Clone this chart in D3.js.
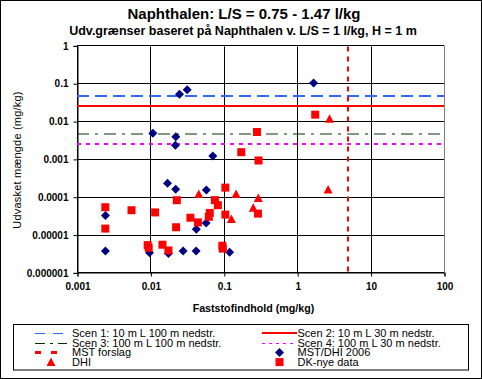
<!DOCTYPE html>
<html><head><meta charset="utf-8">
<script src="https://cdn.jsdelivr.net/npm/d3@7"></script>
<style>
html,body{margin:0;padding:0;background:#fff;}
svg{display:block;font-family:"Liberation Sans",Arial,sans-serif;}
</style></head>
<body>
<svg id="chart" width="482" height="379"></svg>
<script>
// ---- data ----
const titleText = "Naphthalen: L/S = 0.75 - 1.47 l/kg";
const subtitleText = "Udv.grænser baseret på Naphthalen v. L/S = 1 l/kg, H = 1 m";
const xAxisTitle = "Faststofindhold (mg/kg)";
const yAxisTitle = "Udvasket mængde (mg/kg)";

const xTicks = [0.001, 0.01, 0.1, 1, 10, 100];
const xTickLabels = ["0.001", "0.01", "0.1", "1", "10", "100"];
const yTicks = [0.000001, 0.00001, 0.0001, 0.001, 0.01, 0.1, 1];
const yTickLabels = ["0.000001", "0.00001", "0.0001", "0.001", "0.01", "0.1", "1"];

const scenNames = ["Scen 1:  10 m L 100 m nedstr.", "Scen 2: 10 m L 30 m nedstr.",
                   "Scen 3: 100 m L 100 m nedstr.", "Scen 4: 100 m L 30 m nedstr."];
const scenValues = [0.05, 0.027, 0.0049, 0.0026];

const mstForslagName = "MST forslag";
const mstForslagX = 4.85;

const mstDhiName = "MST/DHI 2006";
const mstDhiX = [0.0249, 0.0317, 0.0108, 0.0222, 0.0219, 0.0708, 1.67, 0.0171, 0.0221, 0.0579,
                 0.00244, 0.0574, 0.0422, 0.00244, 0.00972, 0.0176, 0.0279, 0.0420, 0.120];
const mstDhiY = [0.0543, 0.0718, 0.00506, 0.00411, 0.00244, 0.00127, 0.108, 0.000242, 0.000168, 0.000161,
                 0.0000341, 0.0000216, 0.0000147, 0.00000393, 0.00000352, 0.00000338, 0.00000393, 0.00000393, 0.00000363];

const dhiName = "DHI";
const dhiX = [0.0456, 0.147, 0.295, 0.252, 0.127, 2.76, 2.64];
const dhiY = [0.000126, 0.000126, 0.0000988, 0.0000547, 0.0000275, 0.0123, 0.000164];

const dkName = "DK-nye data";
const dkX = [0.00243, 0.00243, 0.00553, 0.0116, 0.00918, 0.00948, 0.0146, 0.0176, 0.0229, 0.0224,
             0.0351, 0.0444, 0.0756, 0.0830, 0.0644, 0.0624, 0.105, 0.105, 0.0956, 0.0968,
             0.173, 0.283, 0.297, 0.292, 1.76];
const dkY = [0.0000561, 0.0000153, 0.0000468, 0.0000409, 0.0000056, 0.00000478, 0.00000573, 0.00000405, 0.0000859, 0.0000166,
             0.0000296, 0.0000223, 0.0000864, 0.0000634, 0.0000397, 0.0000313, 0.000185, 0.0000358, 0.00000539, 0.00000452,
             0.0016, 0.00547, 0.000967, 0.000038, 0.0157];

// ---- styles ----
const scenStyles = [
  {color:"#3366FF", width:2, dash:"12,6"},
  {color:"#FF0000", width:2, dash:null},
  {color:"#003300", width:1, dash:"12,6,3,6"},
  {color:"#FF00FF", width:2, dash:"4,5"}
];
const legendStyles = [
  {color:"#3366FF", width:1, dash:"10,8"},
  {color:"#FF0000", width:2, dash:null},
  {color:"#003300", width:1, dash:"10,5,3,5"},
  {color:"#FF00FF", width:1, dash:"3,4"},
  {color:"#FF0000", width:3, dash:"6,10"}
];
const mstStyle = {color:"#FF0000", width:2, dash:"5,5"};

const svg = d3.select("#chart");
const W = 482, H = 379;
const plot = {left:77, right:444, top:46.4, bottom:273.4};

svg.append("rect").attr("x",0.5).attr("y",0.5).attr("width",W-1).attr("height",H-1)
  .attr("fill","#fff").attr("stroke","#000").attr("stroke-width",1);

const x = d3.scaleLog().domain([0.001, 100]).range([plot.left, plot.right]);
const y = d3.scaleLog().domain([0.000001, 1]).range([plot.bottom, plot.top]);
const px = v => Math.round(x(v)) + 0.5;
const py = v => Math.round(y(v)) - 0.5;

// titles
svg.append("text").attr("x",244).attr("y",18.5).attr("text-anchor","middle")
  .attr("font-size",15).attr("font-weight","bold").text(titleText);
svg.append("text").attr("x",243).attr("y",34.5).attr("text-anchor","middle")
  .attr("font-size",12.5).attr("font-weight","bold").text(subtitleText);

// gridlines
const g = svg.append("g");
g.selectAll("line.hg").data(yTicks).join("line")
  .attr("x1",plot.left).attr("x2",plot.right)
  .attr("y1",d=>py(d)).attr("y2",d=>py(d))
  .attr("stroke","#000").attr("stroke-width",1);
g.selectAll("line.vg").data(xTicks.slice(0,-1)).join("line")
  .attr("x1",d=>px(d)).attr("x2",d=>px(d))
  .attr("y1",plot.top).attr("y2",plot.bottom)
  .attr("stroke","#000").attr("stroke-width",1);
g.append("line").attr("x1",px(100)).attr("x2",px(100)).attr("y1",py(1)).attr("y2",py(0.000001))
  .attr("stroke","#808080").attr("stroke-width",1);

// axes
const yAxis = d3.axisLeft(y).tickValues(yTicks).tickSize(4).tickPadding(5)
  .tickFormat((d,i)=>yTickLabels[i]);
const yG = svg.append("g").attr("transform",`translate(${px(0.001)},-0.5)`).call(yAxis);
yG.select(".domain").attr("stroke","#000");
yG.selectAll("text").attr("font-size",10).attr("font-weight","bold")
  .attr("font-family","'Liberation Sans',Arial,sans-serif").attr("fill","#000");

const xAxis = d3.axisBottom(x).tickValues(xTicks).tickSize(4).tickPadding(6)
  .tickFormat((d,i)=>xTickLabels[i]);
const xG = svg.append("g").attr("transform",`translate(0.5,${py(0.000001)})`).call(xAxis);
xG.select(".domain").attr("stroke","#000");
xG.selectAll("text").attr("font-size",10).attr("font-weight","bold")
  .attr("font-family","'Liberation Sans',Arial,sans-serif").attr("fill","#000");

// axis titles
svg.append("text").attr("x",253.5).attr("y",312).attr("text-anchor","middle")
  .attr("font-size",10.7).attr("font-weight","bold").text(xAxisTitle);
svg.append("text").attr("transform","translate(20.5,160) rotate(-90)").attr("text-anchor","middle")
  .attr("font-size",11).attr("letter-spacing",0.2).text(yAxisTitle);

// scenario lines
const lines = svg.append("g");
scenValues.forEach((v,i)=>{
  const s = scenStyles[i];
  lines.append("line").attr("x1",x(0.001)).attr("x2",x(100))
    .attr("y1",Math.round(y(v))).attr("y2",Math.round(y(v)))
    .attr("stroke",s.color).attr("stroke-width",s.width)
    .attr("stroke-dasharray",s.dash);
});
lines.append("line").attr("x1",Math.round(x(mstForslagX))).attr("x2",Math.round(x(mstForslagX)))
  .attr("y1",y(1)).attr("y2",y(0.000001))
  .attr("stroke",mstStyle.color).attr("stroke-width",mstStyle.width)
  .attr("stroke-dasharray",mstStyle.dash);

// marker paths
const diamond = (cx,cy)=>`M${cx},${cy-4.5}L${cx+4.5},${cy}L${cx},${cy+4.5}L${cx-4.5},${cy}Z`;
const square = (cx,cy)=>`M${cx-4},${cy-4}h8v8h-8Z`;
const triangle = (cx,cy)=>`M${cx},${cy-4.5}L${cx+4.5},${cy+4}L${cx-4.5},${cy+4}Z`;

const pts = svg.append("g");
pts.selectAll("path.dia").data(d3.range(mstDhiX.length)).join("path")
  .attr("d",i=>diamond(x(mstDhiX[i]), y(mstDhiY[i]))).attr("fill","#000080");
pts.selectAll("path.tri").data(d3.range(dhiX.length)).join("path")
  .attr("d",i=>triangle(x(dhiX[i]), y(dhiY[i]))).attr("fill","#FF0000");
pts.selectAll("path.sq").data(d3.range(dkX.length)).join("path")
  .attr("d",i=>square(x(dkX[i]), y(dkY[i]))).attr("fill","#FF0000");

// legend
const lg = svg.append("g");
lg.append("rect").attr("x",13.5).attr("y",324.5).attr("width",455).attr("height",45.5)
  .attr("fill","#fff").attr("stroke","#000");
const rowY = [333, 342.7, 352.4, 362.1];
const colSym = [[35,67],[262,297]];
const colText = [72, 297.5];
const legendItems = [
  {col:0,row:0,name:scenNames[0],type:"line",style:legendStyles[0]},
  {col:1,row:0,name:scenNames[1],type:"line",style:legendStyles[1]},
  {col:0,row:1,name:scenNames[2],type:"line",style:legendStyles[2]},
  {col:1,row:1,name:scenNames[3],type:"line",style:legendStyles[3]},
  {col:0,row:2,name:mstForslagName,type:"line",style:legendStyles[4]},
  {col:1,row:2,name:mstDhiName,type:"diamond"},
  {col:0,row:3,name:dhiName,type:"triangle"},
  {col:1,row:3,name:dkName,type:"square"}
];
legendItems.forEach(it=>{
  const yy = rowY[it.row];
  const [a,b] = colSym[it.col];
  if(it.type==="line"){
    const w = it.style.width;
    const ly = Math.round(yy) + (w%2?0.5:0);
    lg.append("line").attr("x1",a).attr("x2",b).attr("y1",ly).attr("y2",ly)
      .attr("stroke",it.style.color).attr("stroke-width",w)
      .attr("stroke-dasharray",it.style.dash);
  } else {
    const cx=(a+b)/2, cy=yy;
    const d = it.type==="diamond"?diamond(cx,cy):it.type==="square"?square(cx,cy):triangle(cx,cy);
    lg.append("path").attr("d",d).attr("fill",it.type==="diamond"?"#000080":"#FF0000");
  }
  lg.append("text").attr("x",colText[it.col]).attr("y",yy+3.8).attr("font-size",11).text(it.name);
});
</script>
</body></html>
